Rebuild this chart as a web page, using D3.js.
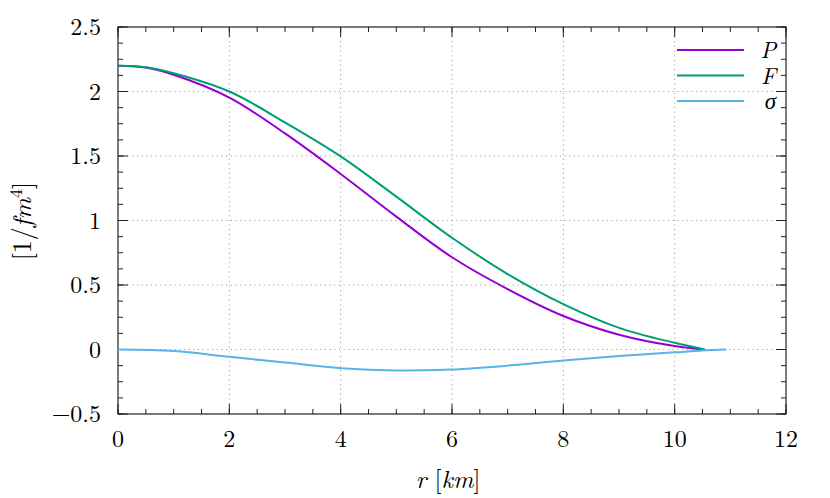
<!DOCTYPE html>
<html>
<head>
<meta charset="utf-8">
<script src="https://cdn.jsdelivr.net/npm/d3@7"></script>
<style>
  body { margin: 0; background: #fff; }
</style>
</head>
<body>
<svg id="chart" width="830" height="498"></svg>
<script>
// r [km] samples
var rP = [0, 0.5, 1, 2, 3, 4, 5, 6, 7, 8, 9, 10, 10.54];
var valP = [2.2, 2.186, 2.13, 1.953, 1.675, 1.361, 1.03, 0.715, 0.468, 0.26, 0.115, 0.027, 0];

var rF = [0, 0.5, 1, 2, 3, 4, 5, 6, 7, 8, 9, 10, 10.54];
var valF = [2.2, 2.188, 2.142, 2.0, 1.76, 1.497, 1.185, 0.866, 0.585, 0.352, 0.168, 0.052, 0];

var rS = [0, 1, 2, 3, 4, 5, 6, 7, 8, 9, 10, 10.5, 10.93];
var valS = [0, -0.012, -0.057, -0.101, -0.145, -0.163, -0.155, -0.125, -0.085, -0.05, -0.022, -0.008, 0];

var seriesNames = ["P", "F", "σ"];
var seriesColors = ["#9400d3", "#009e73", "#56b4e9"];

var xTicks = [0, 2, 4, 6, 8, 10, 12];
var yTicks = [-0.5, 0, 0.5, 1, 1.5, 2, 2.5];

var FONT = "'Latin Modern Roman', 'CMU Serif', 'Liberation Serif', 'Times New Roman', 'DejaVu Serif', 'Noto Serif', serif";

var svg = d3.select("#chart"),
    margin = {top: 27, right: 44, bottom: 84, left: 118},
    width = +svg.attr("width") - margin.left - margin.right,
    height = +svg.attr("height") - margin.top - margin.bottom,
    g = svg.append("g").attr("transform", "translate(" + margin.left + "," + margin.top + ")");

var x = d3.scaleLinear().domain([0, 12]).range([0, width]);
var y = d3.scaleLinear().domain([-0.5, 2.5]).range([height, 0]);

var xMinor = d3.range(0, 12.01, 0.5);
var yMinor = d3.range(-0.5, 2.51, 0.125);

// grid
g.append("g").selectAll("line").data(xTicks.slice(1, -1)).enter().append("line")
    .attr("x1", function(d) { return x(d); }).attr("x2", function(d) { return x(d); })
    .attr("y1", 0).attr("y2", height)
    .attr("stroke", "#a0a0a0").attr("stroke-width", 1).attr("stroke-dasharray", "1.2,3.5");
g.append("g").selectAll("line").data(yTicks.slice(1, -1)).enter().append("line")
    .attr("y1", function(d) { return y(d); }).attr("y2", function(d) { return y(d); })
    .attr("x1", 0).attr("x2", width)
    .attr("stroke", "#a0a0a0").attr("stroke-width", 1).attr("stroke-dasharray", "1.2,3.5");

// ticks on all four sides
function ticksX(vals, len, ypos, dir) {
  g.append("g").selectAll("line").data(vals).enter().append("line")
    .attr("x1", function(d) { return x(d); }).attr("x2", function(d) { return x(d); })
    .attr("y1", ypos).attr("y2", ypos + dir * len)
    .attr("stroke", "#222").attr("stroke-width", 1);
}
function ticksY(vals, len, xpos, dir) {
  g.append("g").selectAll("line").data(vals).enter().append("line")
    .attr("y1", function(d) { return y(d); }).attr("y2", function(d) { return y(d); })
    .attr("x1", xpos).attr("x2", xpos + dir * len)
    .attr("stroke", "#222").attr("stroke-width", 1);
}
ticksX(xMinor, 5, height, -1);
ticksX(xMinor, 5, 0, 1);
ticksX(xTicks, 10, height, -1);
ticksX(xTicks, 10, 0, 1);
ticksY(yMinor, 5, 0, 1);
ticksY(yMinor, 5, width, -1);
ticksY(yTicks, 10, 0, 1);
ticksY(yTicks, 10, width, -1);

// frame
g.append("rect").attr("width", width).attr("height", height)
    .attr("fill", "none").attr("stroke", "#222").attr("stroke-width", 1.2);

// tick labels
g.append("g").selectAll("text").data(xTicks).enter().append("text")
    .attr("x", function(d) { return x(d); }).attr("y", height + 33)
    .attr("text-anchor", "middle").attr("font-family", FONT).attr("font-size", 24)
    .text(function(d) { return d; });
g.append("g").selectAll("text").data(yTicks).enter().append("text")
    .attr("x", -17).attr("y", function(d) { return y(d) + 8; })
    .attr("text-anchor", "end").attr("font-family", FONT).attr("font-size", 24)
    .text(function(d) { return d < 0 ? "\u2212" + Math.abs(d) : d; });

// axis titles
var xt = svg.append("text").attr("x", 448).attr("y", 488).attr("text-anchor", "middle")
    .attr("font-family", FONT).attr("font-size", 25);
xt.append("tspan").attr("font-style", "italic").text("r");
xt.append("tspan").text(" [");
xt.append("tspan").attr("font-style", "italic").text("km");
xt.append("tspan").text("]");

var yt = svg.append("text").attr("transform", "translate(31,221) rotate(-90)")
    .attr("text-anchor", "middle").attr("font-family", FONT).attr("font-size", 26);
yt.append("tspan").text("[1/");
yt.append("tspan").attr("font-style", "italic").text("fm");
yt.append("tspan").attr("dy", -9).attr("font-size", 18).text("4");
yt.append("tspan").attr("dy", 9).text("]");

// curves
var series = [
  rP.map(function(r, i) { return {r: r, v: valP[i]}; }),
  rF.map(function(r, i) { return {r: r, v: valF[i]}; }),
  rS.map(function(r, i) { return {r: r, v: valS[i]}; })
];

var line = d3.line()
    .x(function(d) { return x(d.r); })
    .y(function(d) { return y(d.v); })
    .curve(d3.curveCatmullRom.alpha(0.5));

series.forEach(function(s, i) {
  g.append("path").datum(s)
    .attr("d", line)
    .attr("fill", "none")
    .attr("stroke", seriesColors[i])
    .attr("stroke-width", 2);
});

// legend
var leg = svg.append("g");
seriesNames.forEach(function(name, i) {
  var ly = 50 + i * 25.5;
  leg.append("line").attr("x1", 677).attr("x2", 744).attr("y1", ly).attr("y2", ly)
    .attr("stroke", seriesColors[i]).attr("stroke-width", 2);
  leg.append("text").attr("x", 776).attr("y", ly + 8).attr("text-anchor", "end")
    .attr("font-family", FONT).attr("font-size", 23).attr("font-style", "italic").text(name);
});
</script>
</body>
</html>
